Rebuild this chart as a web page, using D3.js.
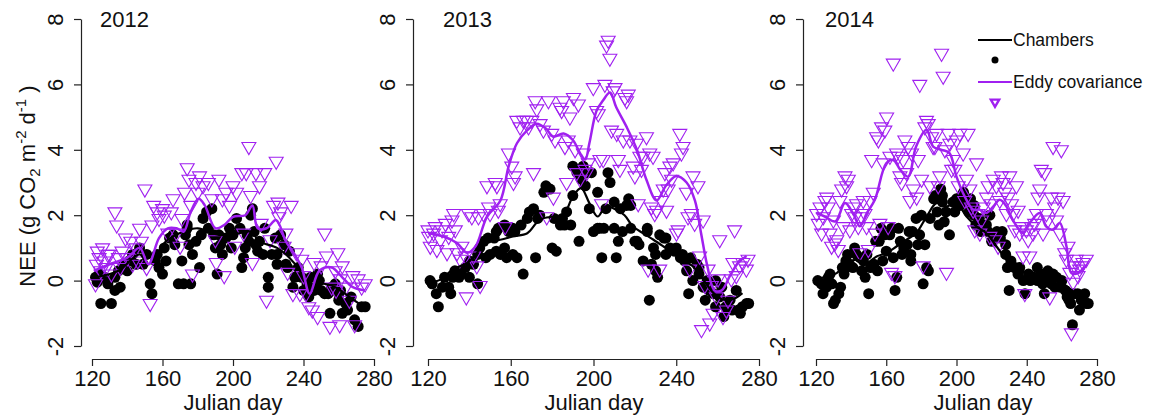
<!DOCTYPE html>
<html>
<head>
<meta charset="utf-8">
<script src="https://d3js.org/d3.v7.min.js"></script>
<style>
  body { margin: 0; background: #fff; }
  text { font-family: "Liberation Sans", Arial, sans-serif; fill: #111; }
</style>
</head>
<body>
<div id="chart"></div>
<script>
// chamber points [julian day, NEE]
var ch2012 = [[122,0.1],[123,-0.05],[124,0.2],[125,-0.7],[127,0.1],[129,-0.1],[131,-0.7],[133,0.1],[133,-0.3],[135,0.3],[136,-0.2],[138,0.5],[140,0.3],[141,0.6],[143,0.8],[145,0.5],[147,1.0],[149,0.5],[151,0.8],[153,-0.1],[154,-0.4],[156,0.6],[157,0.8],[158,0.4],[160,0.2],[161,1.0],[162,0.6],[164,1.3],[166,1.4],[167,1.1],[169,-0.1],[171,0.6],[172,-0.1],[173,1.4],[174,1.6],[174,1.7],[175,1.1],[176,-0.1],[177,0.8],[179,1.2],[181,0.4],[182,1.4],[183,1.9],[185,2.1],[186,1.6],[188,2.2],[189,1.4],[190,1.0],[191,0.2],[192,1.4],[193,1.1],[194,0.8],[196,1.3],[198,1.6],[199,1.0],[200,1.4],[202,1.9],[204,1.6],[205,0.4],[206,0.7],[207,1.0],[208,1.4],[209,1.2],[210,2.0],[211,2.2],[212,1.5],[213,1.1],[214,0.9],[215,1.2],[217,0.8],[218,1.6],[220,0.1],[220,-0.2],[222,0.8],[224,1.3],[225,0.8],[225,0.5],[227,1.4],[229,1.1],[230,0.5],[231,0.4],[232,0.9],[234,-0.2],[235,0.1],[237,0.4],[239,0.1],[240,-0.3],[242,-0.1],[243,-0.5],[244,0.1],[246,-0.3],[247,-0.2],[248,0.2],[249,0.0],[250,-0.3],[252,-0.4],[254,-0.4],[255,-1.0],[256,-0.2],[258,-0.1],[260,-0.6],[260,-0.4],[261,-0.3],[262,-1.0],[264,-0.7],[265,-0.9],[267,-0.5],[269,-1.2],[271,-1.4],[273,-0.8],[275,-0.8]];
var ch2013 = [[121,0.0],[122,-0.1],[124,-0.4],[125,-0.8],[127,-0.2],[128,0.1],[130,-0.2],[131,-0.4],[132,0.1],[133,0.3],[135,0.1],[136,0.2],[138,0.4],[140,0.6],[140,0.1],[142,0.5],[144,0.8],[144,-0.1],[145,1.0],[147,1.2],[148,0.7],[149,1.3],[150,0.8],[152,1.3],[153,1.5],[153,0.9],[154,1.6],[155,0.8],[157,1.7],[157,1.0],[158,0.7],[159,1.5],[161,1.6],[161,0.8],[162,1.5],[163,0.7],[165,1.7],[166,0.2],[168,1.9],[169,2.1],[171,2.2],[172,0.7],[173,1.9],[174,2.0],[176,2.7],[177,2.9],[179,2.8],[180,1.0],[181,1.9],[182,0.9],[184,1.7],[185,1.9],[186,1.7],[187,2.1],[189,1.7],[190,3.5],[190,2.6],[192,3.3],[193,1.2],[194,3.1],[195,3.5],[196,2.9],[197,3.3],[198,2.2],[199,3.3],[200,1.5],[202,1.6],[202,2.7],[203,1.6],[204,0.7],[205,1.6],[206,2.2],[207,3.3],[208,3.0],[210,2.4],[210,1.6],[211,0.7],[212,1.2],[213,2.2],[214,1.5],[216,2.3],[217,2.5],[218,2.3],[218,1.6],[220,1.2],[221,1.2],[222,1.1],[224,0.6],[226,1.6],[226,1.5],[227,-0.6],[228,0.5],[229,1.0],[230,0.8],[230,0.3],[231,0.1],[232,1.4],[234,1.3],[235,0.8],[235,1.3],[237,1.0],[239,0.9],[240,1.0],[242,0.7],[243,0.8],[244,0.6],[245,0.3],[246,-0.4],[247,0.7],[248,0.0],[250,0.5],[251,0.4],[251,0.2],[253,-0.2],[254,-0.6],[255,0.0],[256,-0.3],[258,-0.4],[259,0.0],[259,-0.8],[261,-0.5],[262,-0.2],[263,-1.1],[264,-0.8],[266,-0.6],[267,-0.9],[269,-0.3],[270,-0.9],[271,-1.0],[272,-0.8],[274,-0.7],[275,-0.7]];
var ch2014 = [[121,0.0],[123,-0.1],[124,-0.4],[126,-0.2],[127,0.1],[128,0.2],[129,-0.1],[130,-0.7],[131,-0.6],[133,-0.4],[134,-0.2],[135,0.4],[136,0.2],[137,0.6],[137,0.4],[138,0.8],[139,0.5],[141,0.4],[142,1.0],[143,0.8],[145,0.7],[146,0.3],[147,0.6],[148,0.1],[149,0.8],[150,-0.4],[151,0.4],[153,0.5],[154,1.2],[155,0.3],[156,1.2],[157,1.6],[158,0.6],[159,1.4],[160,0.9],[162,1.4],[163,1.6],[164,0.7],[165,-0.3],[166,0.1],[167,1.6],[168,1.2],[169,0.8],[170,1.0],[172,1.1],[173,1.5],[174,0.8],[174,0.6],[175,1.5],[177,1.9],[178,1.1],[179,1.4],[180,2.0],[181,-0.1],[182,1.1],[183,0.4],[184,0.3],[185,1.9],[187,2.5],[188,2.6],[189,2.1],[190,1.7],[191,2.8],[192,2.6],[192,2.4],[193,1.8],[194,2.1],[196,1.4],[198,2.4],[199,2.1],[200,2.5],[202,2.3],[203,2.6],[204,2.7],[206,2.4],[207,2.1],[208,2.5],[210,2.3],[210,2.0],[211,1.7],[213,1.9],[214,1.5],[215,1.6],[217,1.7],[218,1.5],[219,2.0],[220,1.2],[221,1.4],[223,1.5],[225,1.3],[226,1.5],[228,1.1],[228,0.8],[229,0.4],[230,-0.3],[231,0.6],[233,0.4],[235,0.2],[236,0.4],[238,0.0],[239,-0.4],[241,0.2],[242,0.0],[244,0.1],[246,0.0],[246,0.4],[248,0.2],[249,-0.1],[250,-0.4],[251,0.1],[252,0.3],[254,-0.1],[255,0.2],[256,-0.2],[257,0.1],[259,-0.2],[260,0.0],[262,-0.3],[263,-0.5],[264,-0.6],[265,-0.7],[266,-1.35],[267,-0.4],[269,-0.4],[270,-0.9],[271,-0.6],[273,-0.4],[274,-0.7],[275,-0.7]];

// eddy covariance points [julian day, NEE]
var ec2012 = [[122,-0.1],[122.5,0.5],[123,0.9],[124,0.7],[125,0.3],[126,1.0],[127,0.6],[128,0.4],[129,0.8],[130,0.8],[131,0.2],[133,2.1],[134,1.7],[135,0.7],[136,0.4],[137,0.9],[139,1.3],[140,0.7],[142,1.2],[143,0.5],[145,1.0],[146,0.6],[147,1.6],[148,1.2],[150,2.8],[151,0.4],[153,-0.7],[154,1.7],[155,2.3],[157,2.1],[158,1.9],[160,2.2],[161,2.0],[163,1.45],[165,2.1],[166,2.5],[168,1.45],[170,1.05],[171,1.9],[172.5,2.7],[174,3.45],[175,3.1],[176,2.3],[177,0.2],[179,3.0],[180,2.7],[181,3.2],[183,2.9],[186,3.0],[188,2.5],[190,1.25],[190.5,0.55],[192,3.1],[194,2.5],[195,0.15],[196,2.7],[198,2.3],[200,2.9],[201,1.05],[202,2.7],[205,3.3],[206,1.45],[207.5,3.3],[209,4.1],[210,2.6],[211,0.55],[213,3.3],[215,2.9],[216,1.75],[218,3.3],[219,-0.6],[221,1.25],[223,2.3],[224.5,3.65],[225.5,2.4],[226,1.95],[227,2.1],[229,1.05],[230,1.45],[231,0.25],[233,2.3],[234,-0.4],[236,0.85],[238,-0.4],[239,0.65],[240,0.15],[241.5,-0.4],[243,-0.8],[245,-0.9],[246,0.55],[248,-1.1],[250,0.45],[252,1.45],[253,0.75],[255,-1.4],[256,-0.2],[258,0.3],[258.5,-0.3],[259.5,0.85],[260.5,-1.35],[261,0.05],[262,0.45],[264,-0.2],[266,-0.6],[268,0.15],[269,-1.35],[271,0.05],[273,-0.2],[275,-0.1]];
var ec2013 = [[120,1.55],[120.3,1.35],[121.1,1.05],[122.7,1.45],[123.5,1.65],[124.3,0.95],[126,1.25],[126.8,1.55],[128.4,1.75],[129.2,0.85],[130,1.35],[131.6,1.85],[132.4,2.05],[133.2,1.55],[134,0.85],[135.6,0.65],[136.4,1.05],[138,0.75],[138.5,-0.5],[139.6,2.05],[141.2,1.95],[142,0.75],[143.6,0.45],[144.4,1.95],[145.2,-0.15],[146.8,2.05],[148.5,2.9],[149.3,2.25],[150,2.05],[152.5,3.0],[153.3,2.9],[154,2.15],[154.9,2.35],[157.3,1.65],[158.9,3.9],[160.5,3.5],[161.3,3.0],[162.1,3.2],[162.9,4.9],[164.5,4.7],[166.1,4.9],[167.7,4.9],[168.6,4.7],[170.2,4.9],[171,3.3],[171.8,5.5],[172.6,5.25],[174.2,4.8],[175.8,4.6],[177.4,1.95],[178.2,5.5],[179.8,4.5],[180.6,2.55],[181.4,4.3],[183.8,5.3],[184.6,5.2],[185.4,5.5],[186.2,4.1],[187,3.0],[187.8,4.3],[188.6,5.0],[190.3,5.6],[191.1,4.0],[191.9,3.3],[192.7,5.4],[193.5,3.1],[195.1,3.9],[195.9,3.4],[196.7,3.3],[197.5,3.6],[199.9,5.9],[201.5,5.2],[202.3,5.1],[203.1,3.7],[203.9,2.35],[204.7,3.7],[205.5,6.0],[206.3,7.2],[207.1,7.35],[207.9,6.8],[208.7,4.6],[209.5,5.8],[210.4,5.9],[211.2,4.5],[212,3.7],[212.8,3.4],[214.4,4.3],[215.2,5.6],[216,5.5],[216.8,5.7],[217.6,4.3],[219.2,3.5],[220,3.2],[220.8,4.2],[221.6,2.35],[222.4,3.8],[223.2,3.4],[224,3.8],[225.6,4.4],[226.4,0.35],[227.2,3.9],[228,2.25],[228.8,3.8],[229.6,2.05],[230.5,2.15],[232,0.35],[232.9,2.45],[233.7,2.8],[234.5,3.3],[235.3,2.15],[236.1,2.8],[236.9,3.5],[237.7,3.1],[238.5,3.6],[240.1,1.45],[240.9,1.55],[241.7,4.5],[242.5,3.9],[243.3,4.1],[244.9,2.7],[245.7,1.95],[246.5,0.35],[247.3,2.05],[248.1,3.2],[248.9,1.75],[250.5,2.9],[251.3,0.75],[252.2,-1.5],[253,1.85],[253.8,-0.15],[255.4,0.35],[256.2,-1.3],[257,-0.15],[257.8,-1.0],[259.4,-0.5],[260.2,0.05],[261,1.25],[262.6,-1.1],[264.2,-0.9],[265,-0.6],[266.6,0.05],[267.4,0.55],[268.2,1.55],[269,0.15],[270.6,0.45],[272.2,0.55],[273.9,0.35],[274.7,0.65]];
var ec2014 = [[120.4,2.05],[121.3,1.75],[122.3,2.25],[123.2,1.45],[124.2,1.95],[125.1,2.45],[126.1,2.55],[127,2.25],[128,1.45],[128.9,1.05],[129.9,1.85],[130.8,1.15],[131.8,1.25],[132.7,0.95],[133.6,2.45],[134.6,2.8],[135.5,1.65],[136.5,3.2],[137.4,2.9],[138.4,3.1],[139.3,1.55],[140.3,2.05],[141.2,2.25],[142.2,1.95],[143.1,2.35],[144.1,1.65],[145,0.85],[146,1.95],[146.9,2.45],[147.9,2.05],[148.8,1.65],[149.8,0.95],[150.7,2.45],[151.7,3.7],[152.6,2.7],[153.6,1.45],[154.5,4.4],[155.5,4.3],[156.4,1.75],[157.3,4.7],[158.3,3.6],[159.2,4.6],[160.2,5.0],[161.1,1.65],[162.1,3.8],[163,0.25],[164,6.65],[164.9,0.15],[165.9,3.9],[166.8,3.8],[167.8,3.2],[168.7,3.0],[169.7,3.7],[170.6,4.3],[171.6,3.3],[172.5,4.1],[173.5,2.45],[174.4,3.9],[175.4,2.8],[177.3,2.55],[178.2,3.7],[179.1,6.0],[180.1,3.1],[181,0.45],[182,4.7],[182.9,4.9],[183.9,4.8],[184.8,2.9],[185.8,4.4],[186.7,4.1],[187.7,4.1],[188.6,4.5],[189.6,2.9],[190.5,3.2],[191.5,6.95],[192.4,6.25],[193.4,4.0],[194.3,0.25],[195.3,4.5],[196.2,4.2],[197.2,3.4],[198.1,3.7],[199.1,3.4],[200,4.3],[201,2.9],[201.9,4.5],[203.8,3.9],[204.7,2.45],[205.7,3.1],[206.6,4.5],[207.6,2.8],[208.5,2.25],[209.5,2.15],[210.4,1.55],[211.4,3.6],[212.3,2.05],[213.3,1.45],[214.2,1.85],[215.2,2.25],[217.1,2.55],[218,2.9],[219,1.35],[219.9,2.35],[220.9,3.1],[221.8,1.25],[222.7,2.9],[223.7,1.05],[224.6,2.45],[225.6,3.2],[226.5,3.0],[227.5,2.7],[228.4,2.05],[229.4,2.55],[230.3,3.2],[231.3,2.35],[232.2,2.05],[233.2,1.55],[234.1,2.9],[235.1,2.15],[236,1.45],[237,1.65],[237.9,0.75],[238.9,-0.4],[239.8,1.55],[240.8,1.25],[241.7,0.75],[242.7,1.65],[243.6,1.45],[244.5,1.75],[245.5,2.05],[246.4,2.55],[247.4,2.8],[248.3,3.4],[249.3,1.45],[250.2,3.3],[251.2,2.05],[252.1,1.85],[253.1,-0.5],[254,2.55],[255,4.1],[255.9,2.25],[256.9,1.85],[257.8,2.55],[258.8,1.45],[259.7,4.0],[260.7,2.45],[261.6,0.85],[262.6,0.65],[263.5,1.05],[264.5,0.25],[265.4,-1.6],[266.4,-0.05],[267.3,0.45],[268.2,0.65],[269.2,0.15],[270.1,0.35],[271.1,0.45],[272,0.55],[273.9,0.65]];

// smoothed lines
var chLine2012 = [[122,0.1],[135,0.3],[147,0.8],[152,0.5],[162,1.2],[172,1.5],[180,1.6],[192,1.4],[200,1.4],[210,1.5],[215,1.2],[225,1.0],[232,0.7],[238,0.3],[244,-0.3],[250,-0.1],[258,-0.2],[266,-0.5],[274,-0.8]];
var ecLine2012 = [[121,0.3],[130,0.5],[140,0.7],[147,1.0],[152,0.5],[158,1.3],[163,1.6],[168,1.6],[172,1.5],[176,2.1],[180.5,2.5],[184,2.3],[190,1.6],[195,1.7],[200,1.95],[207,2.0],[211,2.3],[214,1.6],[219,1.6],[224.5,1.85],[230,1.2],[235,0.8],[239,0.4],[243.5,-0.4],[249,0.3],[256,0.4],[262,0.1],[268,-0.2],[275,-0.3]];
var chLine2013 = [[120,-0.07],[126,0.03],[132,0.34],[139,0.54],[143.6,0.84],[148.5,1.25],[155,1.25],[161,1.35],[168,1.45],[174,1.86],[180.6,1.96],[185.4,2.0],[190,2.57],[194,2.83],[198,2.37],[202,1.96],[206,2.27],[210,2.2],[215,2.0],[219,1.66],[224,1.45],[229,1.25],[233.7,1.05],[238.5,0.84],[243,0.64],[248,0.44],[253,0.03],[258,-0.38],[262.6,-0.58],[267,-0.58],[272,-0.38]];
var ecLine2013 = [[120,1.45],[127.5,1.35],[134,1.15],[139,0.85],[143,1.05],[148.5,1.95],[155,2.45],[159,3.5],[163,4.2],[168,4.6],[172.5,4.8],[177,4.65],[180.5,4.4],[185.5,4.5],[190,4.3],[193.5,3.9],[196,3.7],[198,4.2],[201.5,5.2],[204.5,5.5],[208,5.75],[211,5.3],[216,4.7],[221,4.0],[225.5,3.1],[230.5,2.45],[235,2.9],[240,3.2],[245,3.0],[249,2.45],[252,1.45],[255,0.45],[258.5,-0.3],[262,-0.3],[266,0.15],[270,0.55],[274,0.75]];
var chLine2014 = [[120,0.03],[126,0.13],[131.8,0.23],[137.4,0.54],[143,0.64],[149,0.54],[154.5,0.74],[160,0.84],[166,1.05],[171.6,1.25],[177,1.45],[183,1.96],[188.6,2.37],[194.3,2.27],[200,2.37],[205.7,1.96],[211.4,1.66],[217,1.45],[222.7,1.05],[228.4,0.64],[234,0.34],[240,0.23],[245.5,0.13],[251,0.13],[257,0.03],[262.6,-0.17],[268,-0.38],[274,-0.58]];
var ecLine2014 = [[120,2.07],[125,1.96],[131,1.81],[136.5,2.37],[141,2.07],[145,1.66],[149,2.07],[153.5,2.47],[160,3.59],[164,3.69],[168,3.39],[172.5,3.18],[177,4.1],[183,4.61],[186.7,4.1],[191.5,4.0],[196,3.9],[200,3.18],[204.7,2.57],[209.5,2.17],[213,2.17],[217,2.07],[221,2.27],[224.6,2.47],[228.4,2.27],[232,1.86],[238,1.45],[241.7,1.76],[247.4,2.07],[251,1.66],[255,1.56],[258.8,1.76],[262.6,1.05],[265.4,0.23],[269.2,0.23],[273,0.44]];

var years = ["2012", "2013", "2014"];
var xTicks = [120, 160, 200, 240, 280];
var yTicks = [-2, 0, 2, 4, 6, 8];
var legendLabels = ["Chambers", "Eddy covariance"];

var purple = "#a020f0";
var width = 1149, height = 417;

var svg = d3.select("#chart").append("svg")
    .attr("width", width)
    .attr("height", height);

// panel geometry (the panels are not all the same width in the figure)
var panels = [
    {year: years[0], yx: 81, x0: 92, x1: 374, tx: 100, lx: 233, ch: ch2012, ec: ec2012, chLine: chLine2012, ecLine: ecLine2012},
    {year: years[1], yx: 413, x0: 428, x1: 759, tx: 443, lx: 594, ch: ch2013, ec: ec2013, chLine: chLine2013, ecLine: ecLine2013},
    {year: years[2], yx: 803, x0: 816, x1: 1097, tx: 825, lx: 983, ch: ch2014, ec: ec2014, chLine: chLine2014, ecLine: ecLine2014}
];

var y = d3.scaleLinear().domain([-2, 8]).range([346, 19]);
var xAxisY = 359;

var tri = d3.symbol().type(d3.symbolTriangle).size(85);

panels.forEach(function(p, i) {
    var x = d3.scaleLinear().domain([120, 280]).range([p.x0, p.x1]);
    var g = svg.append("g");

    // y axis
    var ya = g.append("g")
        .attr("transform", "translate(" + p.yx + ",0)")
        .call(d3.axisLeft(y).tickValues(yTicks).tickSize(7).tickSizeOuter(0)
            .tickFormat(function(d) { return String(d); }));
    ya.selectAll("text")
        .attr("x", 0).attr("dy", 0)
        .attr("text-anchor", "middle")
        .attr("transform", "translate(-18,0) rotate(-90)")
        .style("font-size", "22px");

    // x axis
    var xa = g.append("g")
        .attr("transform", "translate(0," + xAxisY + ")")
        .call(d3.axisBottom(x).tickValues(xTicks).tickSize(7).tickSizeOuter(0).tickPadding(4));
    xa.selectAll("text").style("font-size", "22px");

    g.selectAll(".domain, .tick line").attr("stroke", "#222").attr("stroke-width", 1.2);
    g.selectAll(".tick text").attr("fill", "#111").style("font-family", "'Liberation Sans', Arial, sans-serif");

    // chamber points
    g.append("g").selectAll("circle")
        .data(p.ch).enter().append("circle")
        .attr("cx", function(d) { return x(d[0]); })
        .attr("cy", function(d) { return y(d[1]); })
        .attr("r", 5.5)
        .attr("fill", "#000");

    // eddy covariance points
    g.append("g").selectAll("path")
        .data(p.ec).enter().append("path")
        .attr("d", tri)
        .attr("transform", function(d) { return "translate(" + x(d[0]) + "," + y(d[1]) + ") rotate(180)"; })
        .attr("fill", "none")
        .attr("stroke", purple)
        .attr("stroke-width", 1.1);

    var line = d3.line()
        .x(function(d) { return x(d[0]); })
        .y(function(d) { return y(d[1]); })
        .curve(d3.curveCatmullRom.alpha(0.5));

    g.append("path").datum(p.chLine)
        .attr("d", line).attr("fill", "none")
        .attr("stroke", "#000").attr("stroke-width", 2.2);
    g.append("path").datum(p.ecLine)
        .attr("d", line).attr("fill", "none")
        .attr("stroke", purple).attr("stroke-width", 2.5);

    g.append("text")
        .attr("x", p.tx).attr("y", 27)
        .style("font-size", "22px")
        .text(p.year);

    g.append("text")
        .attr("x", p.lx).attr("y", 410)
        .attr("text-anchor", "middle")
        .style("font-size", "22px")
        .text("Julian day");
});

// y axis title
var yt = svg.append("text")
    .attr("transform", "translate(35,186) rotate(-90)")
    .attr("text-anchor", "middle")
    .style("font-size", "22px");
yt.append("tspan").text("NEE (g CO");
yt.append("tspan").attr("dy", 5).style("font-size", "15px").text("2");
yt.append("tspan").attr("dy", -5).text(" m");
yt.append("tspan").attr("dy", -9).style("font-size", "15px").text("-2");
yt.append("tspan").attr("dy", 9).text(" d");
yt.append("tspan").attr("dy", -9).style("font-size", "15px").text("-1");
yt.append("tspan").attr("dy", 9).text("  )");

// legend
var lg = svg.append("g");
lg.append("line").attr("x1", 978).attr("x2", 1012).attr("y1", 40).attr("y2", 40)
    .attr("stroke", "#000").attr("stroke-width", 2.2);
lg.append("text").attr("x", 1013).attr("y", 46).style("font-size", "17.5px").text(legendLabels[0]);
lg.append("circle").attr("cx", 995).attr("cy", 60).attr("r", 3.5).attr("fill", "#000");
lg.append("line").attr("x1", 978).attr("x2", 1012).attr("y1", 82).attr("y2", 82)
    .attr("stroke", purple).attr("stroke-width", 2.2);
lg.append("text").attr("x", 1013).attr("y", 88).style("font-size", "17.5px").text(legendLabels[1]);
lg.append("path")
    .attr("d", d3.symbol().type(d3.symbolTriangle).size(30))
    .attr("transform", "translate(995,102) rotate(180)")
    .attr("fill", "none").attr("stroke", purple).attr("stroke-width", 2.4);
</script>
</body>
</html>
